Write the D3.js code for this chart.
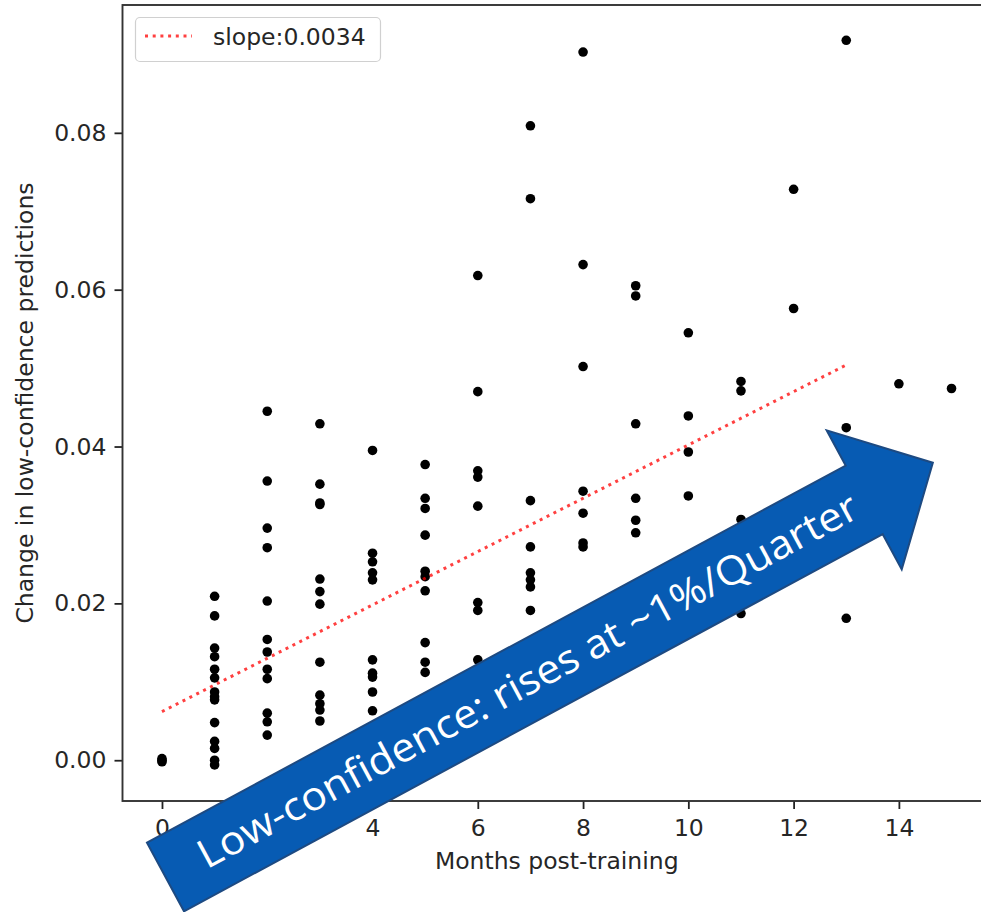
<!DOCTYPE html>
<meta charset="utf-8">
<html>
<!-- Load d3.js -->
<script src="https://d3js.org/d3.v7.min.js"></script>
<style>
  body { margin: 0; background: white; }
</style>
<div id="scatter"></div>

<script>

// ---- data ----
var month0  = [0.0002, 0.0000, -0.0002];
var month1  = [0.0209, 0.0184, 0.0143, 0.0132, 0.0116, 0.0105, 0.0087, 0.0081, 0.0077, 0.0048, 0.0024, 0.0015, 0.0000, -0.0006];
var month2  = [0.0445, 0.0356, 0.0296, 0.0271, 0.0203, 0.0154, 0.0138, 0.0116, 0.0104, 0.0060, 0.0049, 0.0032];
var month3  = [0.0429, 0.0352, 0.0328, 0.0326, 0.0231, 0.0215, 0.0199, 0.0125, 0.0083, 0.0072, 0.0064, 0.0050];
var month4  = [0.0395, 0.0264, 0.0253, 0.0239, 0.0230, 0.0128, 0.0111, 0.0106, 0.0087, 0.0063];
var month5  = [0.0377, 0.0334, 0.0321, 0.0287, 0.0241, 0.0234, 0.0216, 0.0150, 0.0125, 0.0112];
var month6  = [0.0618, 0.0470, 0.0369, 0.0361, 0.0324, 0.0201, 0.0191, 0.0128];
var month7  = [0.0809, 0.0716, 0.0331, 0.0272, 0.0239, 0.0230, 0.0221, 0.0191];
var month8  = [0.0903, 0.0632, 0.0502, 0.0343, 0.0315, 0.0277, 0.0272];
var month9  = [0.0605, 0.0592, 0.0429, 0.0334, 0.0306, 0.0290];
var month10 = [0.0545, 0.0439, 0.0393, 0.0337];
var month11 = [0.0483, 0.0471, 0.0307, 0.0187];
var month12 = [0.0728, 0.0576];
var month13 = [0.0918, 0.0424, 0.0181];
var month14 = [0.0480];
var month15 = [0.0474];

var byMonth = [month0, month1, month2, month3, month4, month5, month6, month7,
               month8, month9, month10, month11, month12, month13, month14, month15];

// fitted trend
var slope = 0.0034;
var intercept = 0.0062;
var trendX = [0, 13];

var xTicks = [0, 2, 4, 6, 8, 10, 12, 14];
var yTicks = [0.00, 0.02, 0.04, 0.06, 0.08];

var note = "Low-confidence: rises at ~1%/Quarter";

// flatten to points
var points = [];
byMonth.forEach(function(vals, m) {
  vals.forEach(function(v) { points.push({x: m, y: v}); });
});

// ---- layout ----
var width = 981,
    height = 912;
// plot box (note: "top" is a reserved window global, so use other names)
var plotL = 122.5, plotR = 991, plotT = 5, plotB = 801;
var fs = 23.5;
var font = "DejaVu Sans";

var svg = d3.select("#scatter")
  .append("svg")
    .attr("width", width)
    .attr("height", height)
    .style("display", "block");

svg.append("rect").attr("width", width).attr("height", height).attr("fill", "white");

var x = d3.scaleLinear().domain([-0.75, 15.75]).range([plotL, plotR]);
var y = d3.scaleLinear().domain([-0.0052, 0.0963]).range([plotB, plotT]);

// axes
var xAxis = svg.append("g")
    .attr("transform", "translate(0," + plotB + ")")
    .call(d3.axisBottom(x).tickValues(xTicks).tickSize(8).tickPadding(8).tickFormat(d3.format("d")));

var yAxis = svg.append("g")
    .attr("transform", "translate(" + plotL + ",0)")
    .call(d3.axisLeft(y).tickValues(yTicks).tickSize(8).tickPadding(8).tickFormat(d3.format(".2f")));

[xAxis, yAxis].forEach(function(a) {
  a.select(".domain").remove();
  a.selectAll(".tick line").attr("stroke", "#222").attr("stroke-width", 1.8);
  a.selectAll(".tick text")
    .attr("fill", "#262626")
    .style("font-family", font)
    .style("font-size", fs + "px");
});
xAxis.selectAll(".tick text").attr("y", 35).attr("dy", 0);

// spines
svg.append("rect")
    .attr("x", plotL).attr("y", plotT)
    .attr("width", plotR - plotL).attr("height", plotB - plotT)
    .attr("fill", "none")
    .attr("stroke", "#333")
    .attr("stroke-width", 1.9);

// axis labels
svg.append("text")
    .attr("x", (plotL + plotR) / 2)
    .attr("y", 869)
    .attr("text-anchor", "middle")
    .attr("fill", "#262626")
    .style("font-family", font)
    .style("font-size", fs + "px")
    .text("Months post-training");

svg.append("text")
    .attr("transform", "translate(33," + (plotT + plotB) / 2 + ") rotate(-90)")
    .attr("text-anchor", "middle")
    .attr("fill", "#262626")
    .style("font-family", font)
    .style("font-size", fs + "px")
    .text("Change in low-confidence predictions");

// points
svg.append("g").selectAll("circle")
  .data(points)
  .enter().append("circle")
    .attr("cx", function(d) { return x(d.x); })
    .attr("cy", function(d) { return y(d.y); })
    .attr("r", 4.8)
    .attr("fill", "black");

// trend line
var line = d3.line()
  .x(function(d) { return x(d); })
  .y(function(d) { return y(intercept + slope * d); });

svg.append("path")
    .datum(trendX)
    .attr("d", line)
    .attr("fill", "none")
    .attr("stroke", "red")
    .attr("stroke-opacity", 0.75)
    .attr("stroke-width", 3)
    .attr("stroke-dasharray", "3,4.7");

// legend
var lg = svg.append("g");
lg.append("rect")
    .attr("x", 135.5).attr("y", 17.5)
    .attr("width", 245).attr("height", 44)
    .attr("rx", 4.5)
    .attr("fill", "white").attr("fill-opacity", 0.8)
    .attr("stroke", "#d0d0d0").attr("stroke-width", 1.2);
lg.append("line")
    .attr("x1", 145).attr("x2", 192)
    .attr("y1", 36).attr("y2", 36)
    .attr("stroke", "red")
    .attr("stroke-opacity", 0.75)
    .attr("stroke-width", 3)
    .attr("stroke-dasharray", "3,4.7");
lg.append("text")
    .attr("x", 213).attr("y", 45)
    .attr("fill", "#262626")
    .style("font-family", font)
    .style("font-size", fs + "px")
    .text("slope:" + slope.toFixed(4));

// annotation arrow (drawn in its own rotated frame)
var arrowLen = 794, shaftHalf = 39, headHalf = 79, headLen = 78;
var arrowPts = [[0, -shaftHalf], [arrowLen, -shaftHalf], [arrowLen, -headHalf],
                [arrowLen + headLen, 0], [arrowLen, headHalf], [arrowLen, shaftHalf], [0, shaftHalf]];

var ar = svg.append("g")
    .attr("transform", "translate(165.5,877) rotate(-28.36)");

ar.append("path")
    .attr("d", d3.line()(arrowPts) + "Z")
    .attr("fill", "#075bb3")
    .attr("stroke", "#1d4a82")
    .attr("stroke-width", 2);

ar.append("text")
    .attr("x", 40)
    .attr("y", 13)
    .attr("textLength", 744)
    .attr("lengthAdjust", "spacingAndGlyphs")
    .attr("fill", "white")
    .style("font-family", "Open Sans")
    .style("font-size", "40px")
    .text(note);

</script>
</html>
